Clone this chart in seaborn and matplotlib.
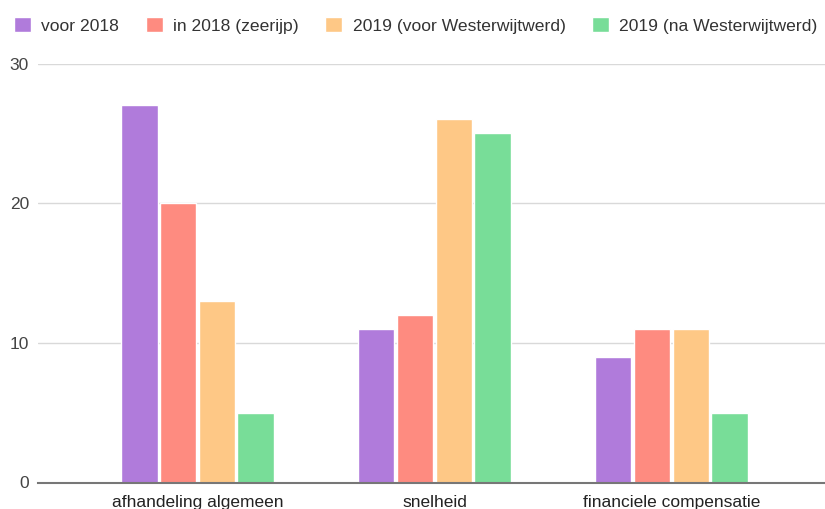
import pandas as pd
import seaborn as sns
import matplotlib.pyplot as plt

categories = ['afhandeling algemeen', 'snelheid', 'financiele compensatie']
series = ['voor 2018', 'in 2018 (zeerijp)', '2019 (voor Westerwijtwerd)', '2019 (na Westerwijtwerd)']
voor_2018 = [27, 11, 9]
in_2018 = [20, 12, 11]
voor_westerwijtwerd_2019 = [13, 26, 11]
na_westerwijtwerd_2019 = [5, 25, 5]
colors = ['#b07bdb', '#fe8b80', '#fec886', '#78dd98']

df = pd.DataFrame({
    'categorie': categories * 4,
    'periode': [s for s in series for _ in categories],
    'aantal': voor_2018 + in_2018 + voor_westerwijtwerd_2019 + na_westerwijtwerd_2019,
})

sns.set_theme(style='white')
plt.rcParams['font.family'] = ['Liberation Sans', 'DejaVu Sans']

fig = plt.figure(figsize=(8.25, 5.09), dpi=100)
ax = fig.add_axes([38 / 825, 1 - 482.5 / 509, 1 - 38 / 825, (482.5 - 63.6) / 509])

sns.barplot(data=df, x='categorie', y='aantal', hue='periode', hue_order=series,
            palette=colors, width=0.655, gap=0.06, saturation=1, ax=ax)

ax.set_xlim(-0.673, 2.648)
ax.set_ylim(0, 30)
ax.set_yticks([0, 10, 20, 30])
ax.set_xlabel('')
ax.set_ylabel('')
ax.grid(axis='y', color='#d9d9d9', linewidth=1)
ax.set_axisbelow(True)
for side in ['top', 'right', 'left']:
    ax.spines[side].set_visible(False)
ax.spines['bottom'].set_color('#777777')
ax.spines['bottom'].set_linewidth(1.5)
ax.spines['bottom'].set_zorder(5)
ax.tick_params(axis='y', length=0, pad=6.5, labelsize=12.5, labelcolor='#444444')
ax.tick_params(axis='x', length=0, pad=9, labelsize=12.5, labelcolor='#222222')

# legend boven de grafiek, vierkante blokjes
handles, labels = ax.get_legend_handles_labels()
ax.get_legend().remove()
fig.legend(handles, labels, loc='center left', bbox_to_anchor=(14 / 825, 1 - 25.5 / 509),
           ncol=4, frameon=False, fontsize=12.6, borderpad=0, borderaxespad=0,
           handlelength=0.97, handleheight=0.97, handletextpad=0.6, columnspacing=1.5,
           labelcolor='#333333')

fig.savefig('out.png', dpi=100)
